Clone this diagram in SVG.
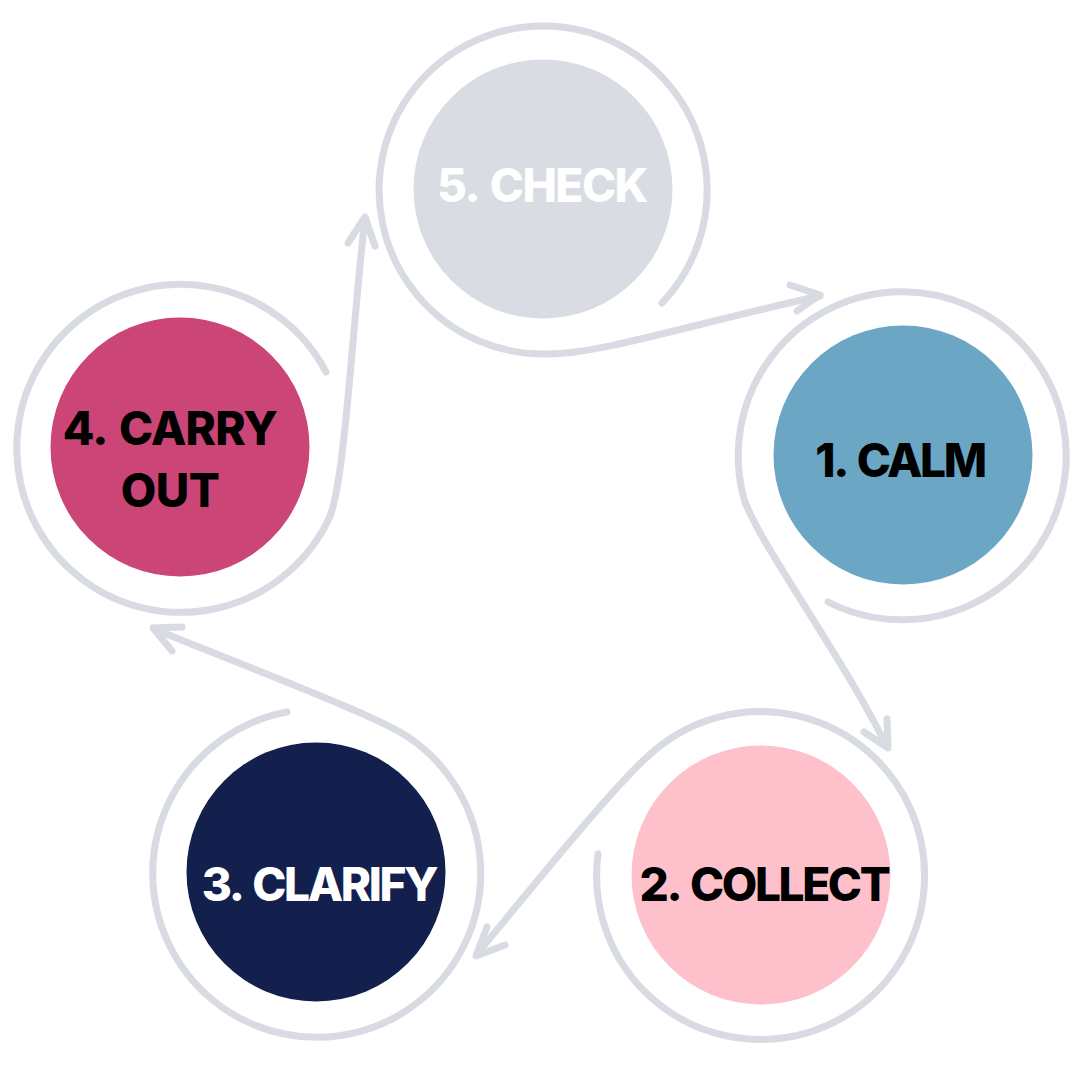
<svg xmlns="http://www.w3.org/2000/svg" width="1080" height="1080" viewBox="0 0 1080 1080">
<style>
.link{fill:none;stroke:#D8DBE2;stroke-width:7;stroke-linecap:round;stroke-linejoin:round}
.lbl{font-family:Inter,"Liberation Sans",sans-serif;font-weight:800;font-size:46px;text-anchor:middle;letter-spacing:-2.4px;word-spacing:4px}
.dark{fill:#000000}
.light{fill:#FFFFFF}
</style>
<rect width="1080" height="1080" fill="#FFFFFF"/>
<g id="connectors">
<path class="link" d="M662 303 A164 164 0 1 0 549.7 353.9 C600 354 700 322 820 296"/>
<polyline class="link" points="790,285 820,295 797,311"/>
<path class="link" d="M828 602 A164 164 0 1 0 743.6 497.4 C754 536 845 660 887 747"/>
<polyline class="link" points="887,719 888,748 864,732"/>
<path class="link" d="M598 854 A164 164 0 1 0 654.6 750.4 C620 778 530 890 477 954"/>
<polyline class="link" points="487,927 476,956 505,945"/>
<path class="link" d="M287 712 A164 164 0 1 0 409 737.7 C380 717 260 672 154 629"/>
<polyline class="link" points="182,627 153,628 172,651"/>
<path class="link" d="M326 372 A164 164 0 1 0 329.6 517.3 C345 480 352 330 365 218"/>
<polyline class="link" points="348,243 365,217 375,246"/>
</g>
<g id="node-check">
<circle cx="543" cy="189" r="129.5" fill="#D9DCE3"/>
<text class="lbl light" x="542" y="202" style="letter-spacing:-1.5px">5. CHECK</text>
</g>
<g id="node-calm">
<circle cx="903" cy="455" r="129.5" fill="#6CA6C5"/>
<text class="lbl dark" x="900" y="477">1. CALM</text>
</g>
<g id="node-collect">
<circle cx="761" cy="875" r="129.5" fill="#FEC1CC"/>
<text class="lbl dark" x="764" y="901">2. COLLECT</text>
</g>
<g id="node-clarify">
<circle cx="316" cy="872" r="129.5" fill="#131F4C"/>
<text class="lbl light" x="319" y="901">3. CLARIFY</text>
</g>
<g id="node-carry-out">
<circle cx="180" cy="447" r="129.5" fill="#CB4576"/>
<text class="lbl dark" x="170" y="445" style="letter-spacing:-0.8px">4. CARRY</text>
<text class="lbl dark" x="170" y="507" style="letter-spacing:-0.5px">OUT</text>
</g>
</svg>
